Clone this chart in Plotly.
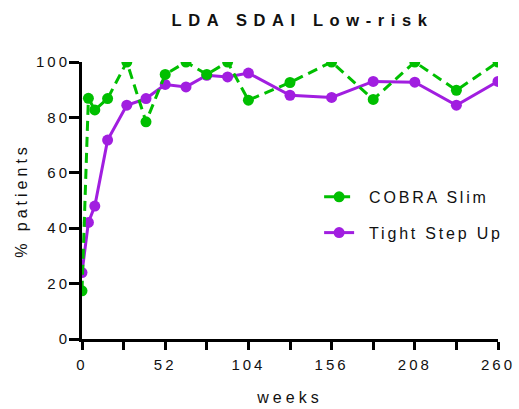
import plotly.graph_objects as go

# Weeks of follow-up and % of patients in low disease activity (SDAI)
weeks = [0, 4, 8, 16, 28, 40, 52, 65, 78, 91, 104, 130, 156, 182, 208, 234, 260]
cobra_slim = [17.4, 86.9, 82.7, 86.8, 100, 78.4, 95.5, 100, 95.5, 100, 86.2, 92.6, 100, 86.5, 100, 89.8, 100]
tight_step_up = [24.0, 42.1, 48.0, 71.8, 84.4, 86.8, 91.9, 91.0, 95.2, 94.6, 96.0, 88.0, 87.2, 93.0, 92.7, 84.4, 93.0]

x_ticks = list(range(0, 261, 26))
x_labels = [str(v) if v % 52 == 0 else "" for v in x_ticks]

GREEN = "#00BF00"
PURPLE = "#A11EE0"
FONT = "Liberation Sans, Arial, sans-serif"

fig = go.Figure()
fig.add_trace(go.Scatter(
    x=weeks, y=tight_step_up, name="Tight Step Up", mode="lines+markers",
    line=dict(color=PURPLE, width=3), marker=dict(color=PURPLE, size=11),
    legendgroup="b", legendrank=2,
))
fig.add_trace(go.Scatter(
    x=weeks, y=cobra_slim, name="COBRA Slim", mode="lines+markers",
    line=dict(color=GREEN, width=3, dash="10px,6px"), marker=dict(color=GREEN, size=11),
    legendgroup="a", legendrank=1,
))

axis_common = dict(
    showline=True, linecolor="black", linewidth=3, mirror=False, automargin=False,
    showgrid=False, zeroline=False, ticks="outside", tickcolor="black",
    tickwidth=3, tickfont=dict(family=FONT, size=15, color="#111"),
)

fig.update_xaxes(
    range=[0, 260], tickmode="array", tickvals=x_ticks, ticktext=x_labels,
    ticklen=8, ticklabelstandoff=2,
    title=dict(text="weeks", font=dict(family=FONT, size=16, color="#111"), standoff=20),
    **axis_common,
)
fig.update_yaxes(
    range=[0, 100], tickmode="linear", tick0=0, dtick=20, ticklen=10,
    ticklabelstandoff=-4,
    title=dict(text="% patients", font=dict(family=FONT, size=16, color="#111"), standoff=14),
    **axis_common,
)

fig.update_layout(
    template="none",
    width=519, height=409,
    margin=dict(l=82, r=21, t=62, b=70),
    paper_bgcolor="white", plot_bgcolor="white",
    title=dict(text="<b>LDA SDAI Low-risk</b>", x=0.583, xanchor="center",
               y=1 - 20 / 409, yanchor="middle", yref="container",
               font=dict(family=FONT, size=16.5, color="#111")),
    legend=dict(x=0.57, y=0.448, xanchor="left", yanchor="middle",
                font=dict(family=FONT, size=16, color="#111"),
                itemwidth=30, tracegroupgap=12, bgcolor="rgba(0,0,0,0)",
                borderwidth=0),
    showlegend=True,
)

# Wide letter spacing for the chart's texts; legend labels sit a little
# further from their symbols and are not clipped
letter_spacing = """
var st = document.createElement('style');
st.textContent = '.gtitle{letter-spacing:6.6px}' +
  '.xtick text,.ytick text{letter-spacing:3px}' +
  '.xtitle,.ytitle{letter-spacing:4px}' +
  '.legendtext{letter-spacing:2.8px;transform:translateX(10px)}' +
  '.legend .scrollbox,.legend{clip-path:none !important}';
document.head.appendChild(st);
"""

fig.write_html("out.html", post_script=letter_spacing)
